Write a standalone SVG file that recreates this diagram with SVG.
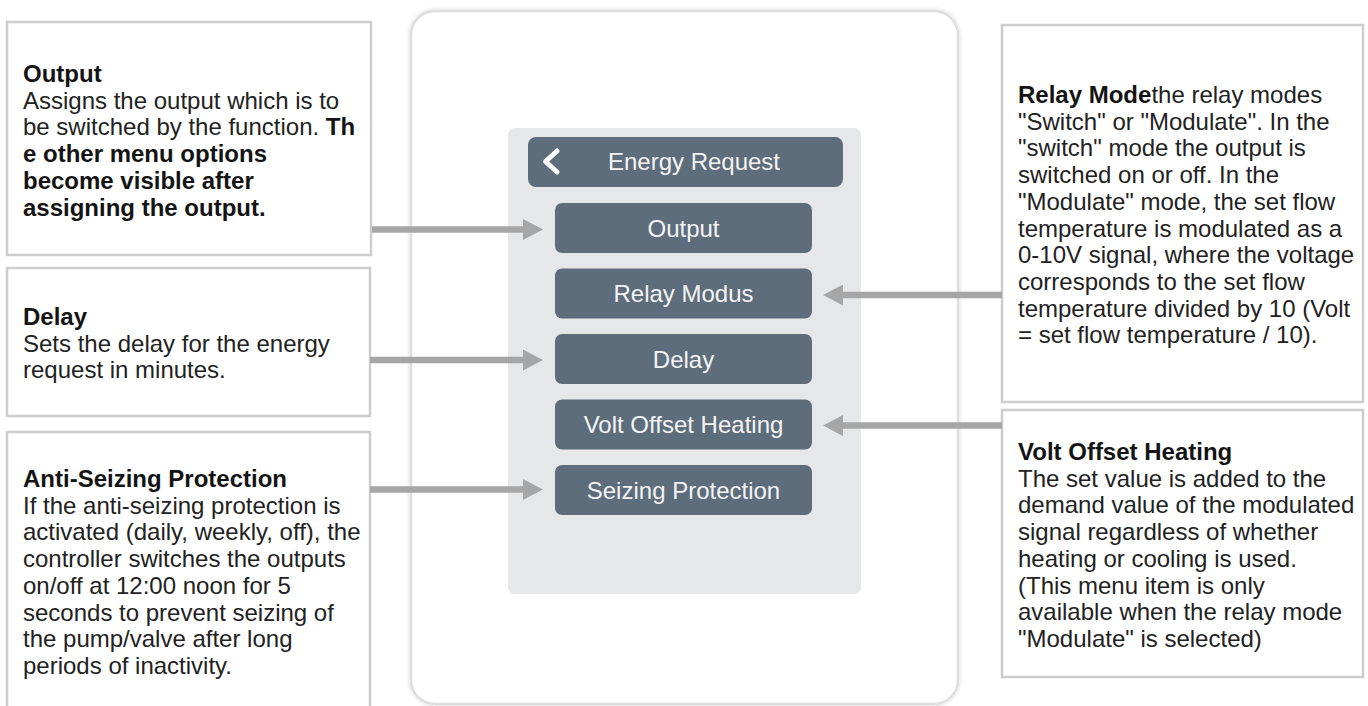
<svg xmlns="http://www.w3.org/2000/svg" width="1368" height="706" viewBox="0 0 1368 706">
  <style>
    .box { fill: #ffffff; stroke: #cdcdcd; stroke-width: 2.5; }
    .desc { font-family: "Liberation Sans", Arial, sans-serif; font-size: 24px; fill: #222222; }
    .b { font-weight: bold; fill: #141414; }
    .btn { fill: #5e6d7c; }
    .btxt { font-family: "Liberation Sans", Arial, sans-serif; font-size: 24px; fill: #f4f4f4; text-anchor: middle; }
    .conn { stroke: #a6a6a6; stroke-width: 6.5; fill: none; marker-end: url(#ah); }
  </style>
  <defs>
    <marker id="ah" viewBox="0 0 20 21" refX="0" refY="10.5" markerWidth="20" markerHeight="21" markerUnits="userSpaceOnUse" orient="auto">
      <path d="M0,0 L20,10.5 L0,21 Z" fill="#a6a6a6"/>
    </marker>
    <filter id="sh" x="-5%" y="-5%" width="110%" height="110%">
      <feGaussianBlur in="SourceAlpha" stdDeviation="2"/>
      <feComponentTransfer><feFuncA type="linear" slope="0.18"/></feComponentTransfer>
      <feMerge><feMergeNode/><feMergeNode in="SourceGraphic"/></feMerge>
    </filter>
  </defs>
  <rect width="1368" height="706" fill="#ffffff"/>

  <g id="device">
    <rect x="411" y="11" width="547" height="693" rx="24" ry="24" fill="#ffffff" stroke="#dedede" stroke-width="2.5" filter="url(#sh)"/>
    <rect x="508" y="128" width="353" height="466" rx="7" ry="7" fill="#e6e7e9"/>
  </g>

  <g id="header">
    <rect class="btn" x="528" y="137" width="315" height="50" rx="8" ry="8"/>
    <polyline points="557,151 545.5,161.5 557,172" fill="none" stroke="#ffffff" stroke-width="5" stroke-linecap="round" stroke-linejoin="round"/>
    <text class="btxt" x="694" y="170">Energy Request</text>
  </g>
  <g id="btn-output">
    <rect class="btn" x="555" y="203" width="257" height="50" rx="7" ry="7"/>
    <text class="btxt" x="683.5" y="236.5">Output</text>
  </g>
  <g id="btn-relay">
    <rect class="btn" x="555" y="268.5" width="257" height="50" rx="7" ry="7"/>
    <text class="btxt" x="683.5" y="302">Relay Modus</text>
  </g>
  <g id="btn-delay">
    <rect class="btn" x="555" y="334" width="257" height="50" rx="7" ry="7"/>
    <text class="btxt" x="683.5" y="367.5">Delay</text>
  </g>
  <g id="btn-volt">
    <rect class="btn" x="555" y="399.5" width="257" height="50" rx="7" ry="7"/>
    <text class="btxt" x="683.5" y="433">Volt Offset Heating</text>
  </g>
  <g id="btn-seizing">
    <rect class="btn" x="555" y="465" width="257" height="50" rx="7" ry="7"/>
    <text class="btxt" x="683.5" y="498.5">Seizing Protection</text>
  </g>

  <g id="desc-output">
    <rect class="box" x="7" y="22" width="364" height="233"/>
    <text class="desc">
      <tspan class="b" x="23" y="82">Output</tspan>
      <tspan x="23" y="108.7">Assigns the output which is to</tspan>
      <tspan x="23" y="135.4">be switched by the function. <tspan class="b">Th</tspan></tspan>
      <tspan class="b" x="23" y="162.1">e other menu options</tspan>
      <tspan class="b" x="23" y="188.8">become visible after</tspan>
      <tspan class="b" x="23" y="215.5">assigning the output.</tspan>
    </text>
  </g>

  <g id="desc-delay">
    <rect class="box" x="7" y="268" width="363" height="148"/>
    <text class="desc">
      <tspan class="b" x="23" y="325">Delay</tspan>
      <tspan x="23" y="351.7">Sets the delay for the energy</tspan>
      <tspan x="23" y="378.4">request in minutes.</tspan>
    </text>
  </g>

  <g id="desc-seizing">
    <rect class="box" x="7" y="432" width="363" height="300"/>
    <text class="desc">
      <tspan class="b" x="23" y="487">Anti-Seizing Protection</tspan>
      <tspan x="23" y="513.7">If the anti-seizing protection is</tspan>
      <tspan x="23" y="540.4">activated (daily, weekly, off), the</tspan>
      <tspan x="23" y="567.1">controller switches the outputs</tspan>
      <tspan x="23" y="593.8">on/off at 12:00 noon for 5</tspan>
      <tspan x="23" y="620.5">seconds to prevent seizing of</tspan>
      <tspan x="23" y="647.2">the pump/valve after long</tspan>
      <tspan x="23" y="673.9">periods of inactivity.</tspan>
    </text>
  </g>

  <g id="desc-relay">
    <rect class="box" x="1002" y="25" width="361" height="377"/>
    <text class="desc">
      <tspan x="1018" y="103"><tspan class="b">Relay Mode</tspan>the relay modes</tspan>
      <tspan x="1018" y="129.7">"Switch" or "Modulate". In the</tspan>
      <tspan x="1018" y="156.4">"switch" mode the output is</tspan>
      <tspan x="1018" y="183.1">switched on or off. In the</tspan>
      <tspan x="1018" y="209.8">"Modulate" mode, the set flow</tspan>
      <tspan x="1018" y="236.5">temperature is modulated as a</tspan>
      <tspan x="1018" y="263.2">0-10V signal, where the voltage</tspan>
      <tspan x="1018" y="289.9">corresponds to the set flow</tspan>
      <tspan x="1018" y="316.6">temperature divided by 10 (Volt</tspan>
      <tspan x="1018" y="343.3">= set flow temperature / 10).</tspan>
    </text>
  </g>

  <g id="desc-volt">
    <rect class="box" x="1002" y="410" width="361" height="267"/>
    <text class="desc">
      <tspan class="b" x="1018" y="460">Volt Offset Heating</tspan>
      <tspan x="1018" y="486.7">The set value is added to the</tspan>
      <tspan x="1018" y="513.4">demand value of the modulated</tspan>
      <tspan x="1018" y="540.1">signal regardless of whether</tspan>
      <tspan x="1018" y="566.8">heating or cooling is used.</tspan>
      <tspan x="1018" y="593.5">(This menu item is only</tspan>
      <tspan x="1018" y="620.2">available when the relay mode</tspan>
      <tspan x="1018" y="646.9">"Modulate" is selected)</tspan>
    </text>
  </g>

  <g id="connectors">
    <line class="conn" x1="372" y1="229.5" x2="523" y2="229.5"/>
    <line class="conn" x1="370" y1="360" x2="523" y2="360"/>
    <line class="conn" x1="370" y1="489.5" x2="523" y2="489.5"/>
    <line class="conn" x1="1002" y1="295" x2="843" y2="295"/>
    <line class="conn" x1="1002" y1="425.5" x2="843" y2="425.5"/>
  </g>
</svg>
